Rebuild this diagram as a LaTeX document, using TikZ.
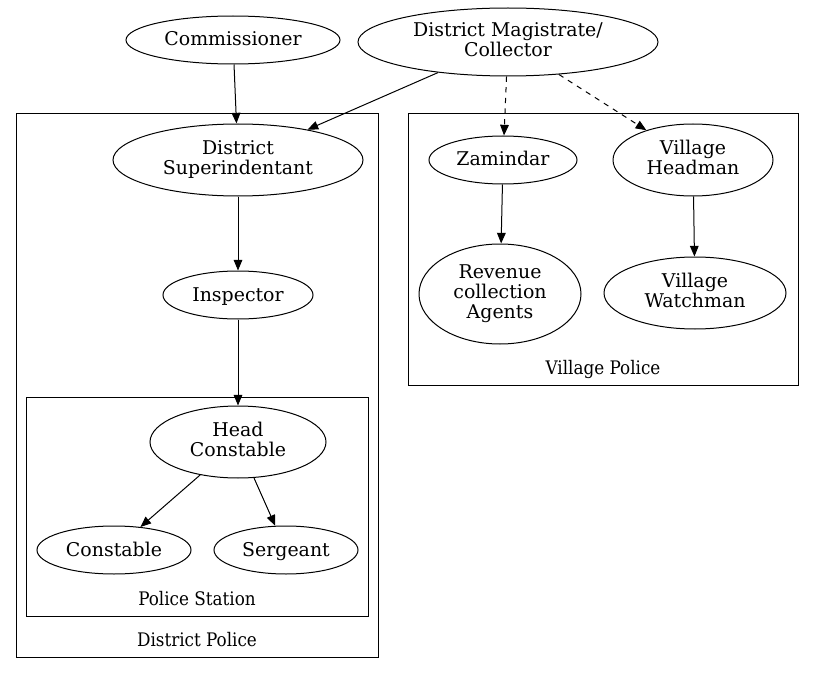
\documentclass[tikz,border=0pt]{standalone}
\usepackage{fontspec}
\setmainfont{DejaVu Serif}
\newfontfamily\clusterfont{DejaVu Serif Condensed}
\usetikzlibrary{shapes.geometric, arrows.meta}
\newcommand{\officerstrut}{\rule[-4pt]{0pt}{17pt}}
\tikzstyle{officer}=[ellipse, draw=black, line width=0.75pt, inner sep=0pt,
align=center, font=\fontsize{14.2}{15}\selectfont,
execute at begin node=\officerstrut, execute at end node=\officerstrut]
\tikzstyle{cluster}=[draw=black, line width=0.75pt]
\tikzstyle{clusterlabel}=[font=\clusterfont\fontsize{14}{16}\selectfont]

\begin{document}
\begin{tikzpicture}[x=0.75pt, y=-0.75pt, line width=0.75pt,
  >={Triangle[length=8pt, width=6.5pt]}]
  \useasboundingbox (0, 0) rectangle (815, 674);

  % Clusters
  \draw[cluster] (16, 114) rectangle (378, 657);
  \draw[cluster] (26, 397) rectangle (368, 616);
  \draw[cluster] (408, 114) rectangle (798, 385);
  \node (dpolice) at (197, 640) [clusterlabel]{District Police};
  \node (pstation) at (197, 599) [clusterlabel]{Police Station};
  \node (vpolice) at (603, 369) [clusterlabel]{Village Police};

  % Top Nodes
  \node (comm) at (233, 40) [officer, minimum width=160.5pt, minimum height=36pt]{Commissioner};
  \node (dm) at (508, 42) [officer, minimum width=225pt, minimum height=51pt]{District Magistrate/\\Collector};

  % District Police Nodes
  \node (sp) at (238, 160) [officer, minimum width=187.5pt, minimum height=54pt]{District\\Superindentant};
  \node (insp) at (238, 295) [officer, minimum width=112.5pt, minimum height=36pt]{Inspector};
  \node (head) at (238, 442) [officer, minimum width=132pt, minimum height=54pt]{Head\\Constable};
  \node (const) at (114, 550) [officer, minimum width=115.5pt, minimum height=36pt]{Constable};
  \node (serg) at (286, 550) [officer, minimum width=108pt, minimum height=36pt]{Sergeant};

  % Village Police Nodes
  \node (zam) at (503, 160) [officer, minimum width=111pt, minimum height=36pt]{Zamindar};
  \node (vhead) at (693, 160) [officer, minimum width=120pt, minimum height=54pt]{Village\\Headman};
  \node (agents) at (500, 294) [officer, minimum width=121.5pt, minimum height=75pt]{Revenue\\collection\\Agents};
  \node (watch) at (695, 293) [officer, minimum width=136.5pt, minimum height=54pt]{Village\\Watchman};

  % Solid Edges
  \draw[->] (comm) -- (sp);
  \draw[->] (dm) -- (sp);
  \draw[->] (sp) -- (insp);
  \draw[->] (insp) -- (head);
  \draw[->] (head) -- (const);
  \draw[->] (head) -- (serg);
  \draw[->] (zam) -- (agents);
  \draw[->] (vhead) -- (watch);

  % Dashed Edges
  \draw[->, dash pattern=on 4pt off 4pt] (dm) -- (zam);
  \draw[->, dash pattern=on 4pt off 4pt] (dm) -- (vhead);
\end{tikzpicture}
\end{document}
